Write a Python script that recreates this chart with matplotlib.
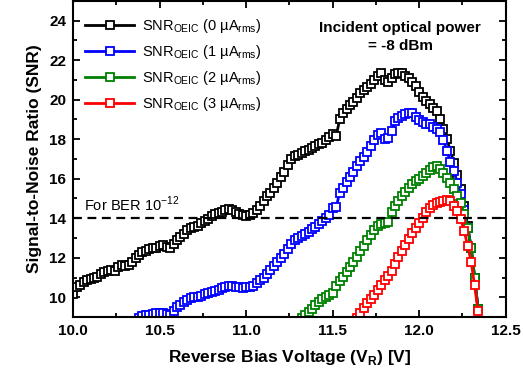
import numpy as np
import matplotlib
matplotlib.use("Agg")
import matplotlib.pyplot as plt
from matplotlib.ticker import MultipleLocator

plt.rcParams['font.family'] = ['Liberation Sans', 'DejaVu Sans']
plt.rcParams['mathtext.fontset'] = 'custom'
plt.rcParams['mathtext.rm'] = 'Liberation Sans'
plt.rcParams['mathtext.bf'] = 'Liberation Sans:bold'

# bias voltage sweeps (V), step 0.02
v_black = np.round(np.arange(10.00, 12.341, 0.02), 2)
v_blue = np.round(np.arange(10.38, 12.341, 0.02), 2)
v_green = np.round(np.arange(11.32, 12.341, 0.02), 2)
v_red = np.round(np.arange(11.64, 12.341, 0.02), 2)

snr_0ua = [10.15, 10.5, 10.6, 10.75, 10.85, 10.95, 11.0, 11.05, 11.2, 11.3,
           11.35, 11.4, 11.35, 11.55, 11.65, 11.6, 11.65, 11.8, 12.0, 12.15,
           12.3, 12.35, 12.45, 12.5, 12.5, 12.6, 12.65, 12.55, 12.5, 12.7,
           12.9, 13.05, 13.2, 13.4, 13.5, 13.55, 13.6, 13.75, 13.85, 13.95,
           14.1, 14.2, 14.25, 14.3, 14.4, 14.45, 14.4, 14.3, 14.2, 14.15,
           14.1, 14.15, 14.25, 14.4, 14.6, 14.85, 15.1, 15.3, 15.55, 15.8,
           16.1, 16.35, 16.7, 17.0, 17.15, 17.2, 17.3, 17.4, 17.45, 17.55,
           17.65, 17.75, 17.8, 17.95, 18.1, 18.25, 18.15, 19.0, 19.3, 19.55,
           19.75, 19.9, 20.1, 20.35, 20.5, 20.65, 20.8, 21.0, 21.2, 21.35,
           21.0, 20.9, 21.1, 21.3, 21.35, 21.35, 21.2, 21.1, 20.9, 20.7,
           20.4, 20.15, 19.95, 19.8, 19.6, 19.4, 19.0, 18.5, 18.0, 17.4,
           16.8, 16.2, 15.5, 14.6, 13.6, 12.5, 11.0, 9.4]

snr_1ua = [8.95, 9.05, 9.1, 9.1, 9.15, 9.2, 9.2, 9.2, 9.15, 9.1,
           9.3, 9.5, 9.6, 9.75, 9.85, 9.95, 10.0, 10.0, 10.05, 10.15,
           10.2, 10.25, 10.3, 10.35, 10.45, 10.5, 10.55, 10.55, 10.5, 10.5,
           10.45, 10.5, 10.5, 10.55, 10.7, 10.85, 11.0, 11.2, 11.4, 11.6,
           11.8, 12.0, 12.2, 12.45, 12.7, 12.9, 13.0, 13.1, 13.2, 13.3,
           13.45, 13.55, 13.7, 13.85, 14.0, 14.15, 14.5, 14.55, 15.3, 15.55,
           15.85, 16.1, 16.35, 16.65, 16.9, 17.1, 17.35, 17.65, 17.95, 18.2,
           18.3, 18.0, 18.05, 18.4, 18.9, 19.05, 19.15, 19.25, 19.3, 19.3,
           19.1, 18.95, 18.85, 18.75, 18.75, 18.6, 18.5, 18.35, 17.95, 17.4,
           16.85, 16.4, 15.8, 15.2, 14.4, 13.5, 12.5, 11.0, 9.4]

snr_2ua = [8.95, 9.1, 9.25, 9.4, 9.6, 9.75, 9.9, 10.0, 10.1, 10.2,
           10.55, 10.8, 11.05, 11.3, 11.55, 11.8, 12.05, 12.35, 12.6, 12.9,
           13.15, 13.4, 13.6, 13.7, 13.75, 13.8, 14.3, 14.6, 14.85, 15.1,
           15.35, 15.55, 15.75, 15.9, 16.0, 16.15, 16.3, 16.45, 16.6, 16.65,
           16.5, 16.3, 16.05, 15.8, 15.5, 15.1, 14.75, 14.2, 13.5, 12.5,
           11.0, 9.4]

snr_3ua = [8.95, 9.2, 9.45, 9.7, 9.9, 10.1, 10.35, 10.6, 10.85, 11.1,
           11.35, 11.7, 12.05, 12.35, 12.65, 12.95, 13.25, 13.5, 13.75, 14.0,
           14.3, 14.5, 14.65, 14.75, 14.8, 14.85, 14.9, 14.85, 14.6, 14.35,
           13.95, 13.35, 12.6, 11.8, 10.6, 9.3]

labels = [r'SNR$_\mathregular{OEIC}$ (0 µA$_\mathregular{rms}$)',
          r'SNR$_\mathregular{OEIC}$ (1 µA$_\mathregular{rms}$)',
          r'SNR$_\mathregular{OEIC}$ (2 µA$_\mathregular{rms}$)',
          r'SNR$_\mathregular{OEIC}$ (3 µA$_\mathregular{rms}$)']
colors = ['black', '#0000ff', '#008000', '#ff0000']
ber_level = 14

fig = plt.figure(figsize=(5.23, 3.82), dpi=100)
ax = fig.add_axes([0.140, 0.170, 0.827, 0.828])

series = [(v_black, snr_0ua), (v_blue, snr_1ua), (v_green, snr_2ua), (v_red, snr_3ua)]
for (v, s), c, lab in zip(series, colors, labels):
    ax.plot(v, s, '-s', color=c, lw=2, ms=6, mew=1.3, mfc='white',
            mec=c, label=lab)

ax.axhline(ber_level, color='black', lw=1.6, ls=(0, (4, 2.5)))
ax.text(10.06, 14.2, r'For BER 10$^{-12}$', fontsize=10.5, ha='left', va='bottom')
ax.text(11.89, 23.6, 'Incident optical power', fontsize=11, fontweight='bold',
        ha='center', va='center')
ax.text(11.89, 22.7, '= -8 dBm', fontsize=11, fontweight='bold',
        ha='center', va='center')

ax.set_xlim(10.0, 12.5)
ax.set_ylim(9, 25)
ax.xaxis.set_major_locator(MultipleLocator(0.5))
ax.xaxis.set_minor_locator(MultipleLocator(0.25))
ax.yaxis.set_minor_locator(MultipleLocator(1))
ax.set_yticks([10, 12, 14, 16, 18, 20, 22, 24])
ax.xaxis.set_major_formatter(matplotlib.ticker.FormatStrFormatter('%.1f'))
ax.tick_params(which='both', direction='in', top=True, right=True, width=1.3)
ax.tick_params(which='major', length=5, labelsize=11, pad=5)
ax.tick_params(which='minor', length=3)
for lab in ax.get_xticklabels() + ax.get_yticklabels():
    lab.set_fontweight('bold')
for sp in ax.spines.values():
    sp.set_linewidth(1.5)

ax.set_xlabel(r'Reverse Bias Voltage (V$_\mathregular{R}$) [V]', fontsize=12.5,
              fontweight='bold', labelpad=7)
ax.set_ylabel('Signal-to-Noise Ratio (SNR)', fontsize=12.5, fontweight='bold',
              labelpad=5)

ax.legend(loc='upper left', frameon=False, fontsize=10.5, handlelength=3.4,
          handletextpad=0.5, labelspacing=0.55, borderaxespad=0.4,
          bbox_to_anchor=(0.0, 0.985))

fig.savefig('out.png', dpi=100)
